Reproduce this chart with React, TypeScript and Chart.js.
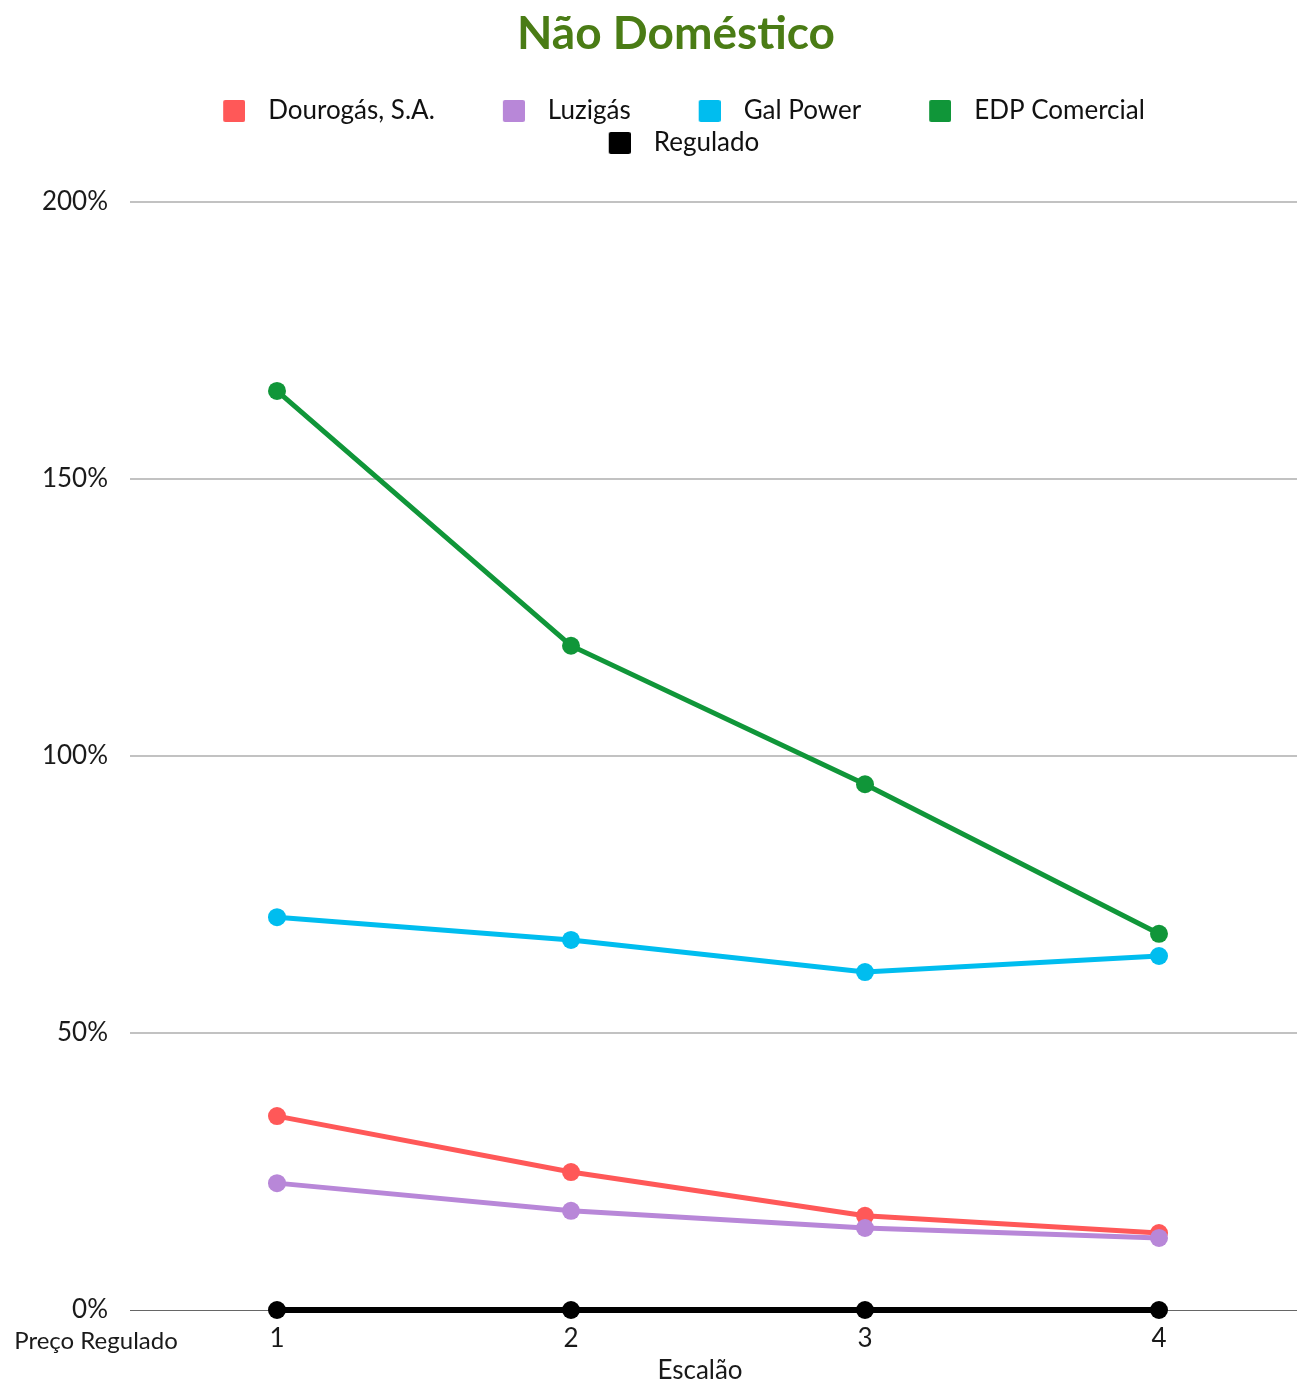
import React, { useEffect, useRef } from 'react';
import { Chart, registerables } from 'chart.js';

Chart.register(...registerables);

// ---- data ----
const categories = ['1', '2', '3', '4'];
const seriesNames = ['Dourogás, S.A.', 'Luzigás', 'Gal Power', 'EDP Comercial', 'Regulado'];
const dourogas = [35.0, 24.9, 17.0, 13.9];
const luzigas = [22.9, 17.9, 14.8, 13.0];
const galPower = [70.9, 66.8, 61.0, 63.9];
const edpComercial = [165.9, 119.9, 94.9, 67.9];
const regulado = [0, 0, 0, 0];
const yTickValues = [0, 50, 100, 150, 200];
const titleText = 'Não Doméstico';
const xAxisTitle = 'Escalão';
const baseLabel = 'Preço Regulado';

const seriesColors = ['#ff5858', '#b887d8', '#00bdef', '#109639', '#000000'];
const FONT = 'Lato, "Noto Sans", sans-serif';
const CW = 1306;
const CH = 1381;

function makeLegendBox(color: string): HTMLCanvasElement {
  const c = document.createElement('canvas');
  c.width = 74;
  c.height = 22;
  const g = c.getContext('2d')!;
  g.fillStyle = color;
  const x = 52, y = 0, w = 22, h = 22, r = 2;
  g.beginPath();
  g.moveTo(x + r, y);
  g.lineTo(x + w - r, y);
  g.quadraticCurveTo(x + w, y, x + w, y + r);
  g.lineTo(x + w, y + h - r);
  g.quadraticCurveTo(x + w, y + h, x + w - r, y + h);
  g.lineTo(x + r, y + h);
  g.quadraticCurveTo(x, y + h, x, y + h - r);
  g.lineTo(x, y + r);
  g.quadraticCurveTo(x, y, x + r, y);
  g.closePath();
  g.fill();
  return c;
}

const legendSpacer = {
  id: 'legendSpacer',
  beforeInit(chart: any) {
    const legend = chart.legend;
    if (!legend) return;
    const orig = legend.fit;
    legend.fit = function () {
      const mw = this.maxWidth;
      this.maxWidth = Math.min(mw, 1150);
      orig.call(this);
      this.maxWidth = mw;
      this.height += 36;
    };
  },
};

const extraText = {
  id: 'extraText',
  afterDraw(chart: any) {
    const ctx = chart.ctx;
    const area = chart.chartArea;
    ctx.save();
    ctx.textAlign = 'center';
    ctx.textBaseline = 'middle';
    ctx.fillStyle = '#4a7c15';
    ctx.font = `bold 46px ${FONT}`;
    ctx.fillText(titleText, 676, 34);
    ctx.fillStyle = '#1a1a1a';
    ctx.font = `24px ${FONT}`;
    ctx.fillText(baseLabel, 96, area.bottom + 31);
    ctx.font = `26px ${FONT}`;
    ctx.fillText(xAxisTitle, 700, area.bottom + 61);
    ctx.restore();
  },
};

export default function App() {
  const ref = useRef<HTMLCanvasElement | null>(null);

  useEffect(() => {
    if (!ref.current) return;
    const values = [dourogas, luzigas, galPower, edpComercial, regulado];
    const orders = [5, 4, 3, 2, 1];
    const boxes = seriesColors.map((c) => makeLegendBox(c));
    const chart = new Chart(ref.current, {
      type: 'line',
      data: {
        labels: categories,
        datasets: seriesNames.map((name, i) => ({
          label: name,
          data: values[i],
          borderColor: seriesColors[i],
          backgroundColor: seriesColors[i],
          pointBackgroundColor: seriesColors[i],
          pointBorderColor: seriesColors[i],
          borderWidth: i === 4 ? 6 : 5,
          pointRadius: 9,
          pointBorderWidth: 0,
          tension: 0,
          clip: false,
          order: orders[i],
        })),
      },
      options: {
        responsive: false,
        animation: false,
        devicePixelRatio: 1,
        layout: { autoPadding: false, padding: { top: 92, left: 0, right: 0, bottom: 0 } },
        plugins: {
          title: { display: false },
          tooltip: { enabled: false },
          legend: {
            display: true,
            position: 'top',
            labels: {
              usePointStyle: true,
              pointStyleWidth: 94,
              padding: 6,
              color: '#111',
              font: { family: FONT, size: 26 },
              generateLabels: (ch: any) =>
                ch.data.datasets.map((ds: any, i: number) => ({
                  text: ds.label,
                  fillStyle: seriesColors[i],
                  strokeStyle: seriesColors[i],
                  lineWidth: 0,
                  pointStyle: boxes[i],
                  hidden: !ch.isDatasetVisible(i),
                  datasetIndex: i,
                  fontColor: '#111',
                })),
            },
          },
        },
        scales: {
          x: {
            type: 'category',
            offset: true,
            grid: { display: false, drawTicks: false },
            border: { display: false },
            ticks: { color: '#1a1a1a', padding: 13, font: { family: FONT, size: 26 } },
            afterFit: (s: any) => {
              s.height = 71;
              s.paddingLeft = 0;
              s.paddingRight = 0;
            },
          },
          y: {
            type: 'linear',
            min: 0,
            max: 200,
            border: { display: false },
            grid: {
              drawTicks: false,
              color: (c: any) => (c.tick && c.tick.value === 0 ? '#666666' : '#c2c2c2'),
              lineWidth: (c: any) => (c.tick && c.tick.value === 0 ? 1 : 2),
            },
            afterBuildTicks: (s: any) => {
              s.ticks = yTickValues.map((v) => ({ value: v }));
            },
            ticks: {
              color: '#1a1a1a',
              padding: 22,
              font: { family: FONT, size: 26 },
              callback: (v: any) => `${v}%`,
            },
            afterFit: (s: any) => {
              s.width = 130;
            },
          },
        },
      } as any,
      plugins: [legendSpacer, extraText],
    });
    return () => chart.destroy();
  }, []);

  return (
    <div
      style={{
        position: 'fixed',
        left: 0,
        top: 0,
        width: '100vw',
        height: '100vh',
        overflow: 'hidden',
        background: '#fff',
      }}
    >
      <canvas ref={ref} width={CW} height={CH} style={{ display: 'block', width: CW, height: CH }} />
    </div>
  );
}
